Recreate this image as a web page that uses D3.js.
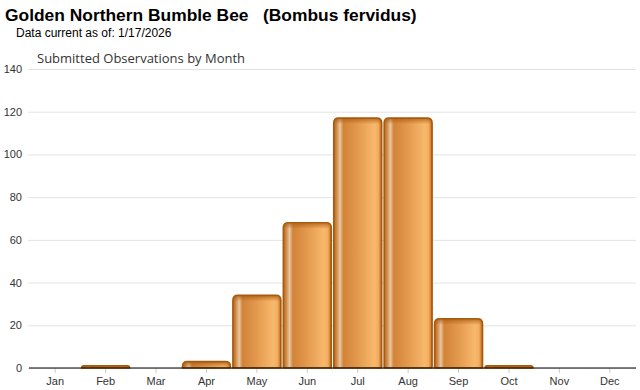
<!DOCTYPE html>
<html>
<head>
<meta charset="utf-8">
<script src="https://cdn.jsdelivr.net/npm/d3@7"></script>
<style>
  body { margin: 0; background: #fff; }
  svg { display: block; }
</style>
</head>
<body>
<div id="chart"></div>
<script>
const months = ['Jan', 'Feb', 'Mar', 'Apr', 'May', 'Jun', 'Jul', 'Aug', 'Sep', 'Oct', 'Nov', 'Dec'];
const observations = [0, 1, 0, 3, 34, 68, 117, 117, 23, 1, 0, 0];
const yTicks = [0, 20, 40, 60, 80, 100, 120, 140];

const width = 640;
const height = 390;
const margin = { top: 69, right: 5, bottom: 22, left: 30 };

const svg = d3.select('#chart')
  .append('svg')
  .attr('width', width)
  .attr('height', height);

const defs = svg.append('defs');

// horizontal "cylinder" shading for the bars
const grad = defs.append('linearGradient')
  .attr('id', 'barGrad')
  .attr('x1', '0%').attr('x2', '100%')
  .attr('y1', '0%').attr('y2', '0%');
[
  ['0%', '#b8671c'],
  ['6%', '#cf8a48'],
  ['13%', '#e9c7a0'],
  ['20%', '#d28338'],
  ['50%', '#e39a4e'],
  ['85%', '#f8b86c'],
  ['93%', '#f2ad60'],
  ['100%', '#b86a1c']
].forEach(([o, c]) => grad.append('stop').attr('offset', o).attr('stop-color', c));

// darker shading along the top edge
const topGrad = defs.append('linearGradient')
  .attr('id', 'topGrad')
  .attr('x1', '0%').attr('x2', '0%')
  .attr('y1', '0%').attr('y2', '100%');
topGrad.append('stop').attr('offset', '0%').attr('stop-color', '#a85a10').attr('stop-opacity', 0.7);
topGrad.append('stop').attr('offset', '100%').attr('stop-color', '#a85a10').attr('stop-opacity', 0);

const x = d3.scaleBand()
  .domain(months)
  .range([margin.left, width - margin.right])
  .paddingInner(0.02)
  .paddingOuter(0.01);

const y = d3.scaleLinear()
  .domain([0, 140])
  .range([height - margin.bottom, margin.top]);

// titles
svg.append('text')
  .attr('x', 5).attr('y', 21)
  .attr('font-family', 'Liberation Sans, Arial, sans-serif')
  .attr('font-size', 17.4)
  .attr('font-weight', 'bold')
  .attr('fill', '#000')
  .attr('xml:space', 'preserve')
  .text('Golden Northern Bumble Bee   (Bombus fervidus)');

svg.append('text')
  .attr('x', 16).attr('y', 37)
  .attr('font-family', 'Liberation Sans, Arial, sans-serif')
  .attr('font-size', 12)
  .attr('fill', '#000')
  .text('Data current as of: 1/17/2026');

svg.append('text')
  .attr('x', 37).attr('y', 63)
  .attr('font-family', 'Open Sans, sans-serif')
  .attr('font-size', 13)
  .attr('fill', '#333')
  .text('Submitted Observations by Month');

// gridlines + y labels
const yAxis = svg.append('g')
  .attr('transform', `translate(${margin.left - 2},0)`)
  .call(d3.axisLeft(y).tickValues(yTicks).tickSize(-(width - margin.left - 2)).tickPadding(6));
yAxis.select('.domain').remove();
yAxis.selectAll('.tick line').attr('stroke', '#e3e3e3');
yAxis.selectAll('.tick text')
  .attr('fill', '#333')
  .attr('font-family', 'Liberation Sans, Arial, sans-serif')
  .attr('font-size', 11);

// x axis
const xAxis = svg.append('g')
  .attr('transform', `translate(0,${height - margin.bottom})`)
  .call(d3.axisBottom(x).tickSize(5).tickPadding(4));
xAxis.select('.domain').remove();
xAxis.selectAll('.tick line').attr('stroke', '#ccc');
xAxis.selectAll('.tick text')
  .attr('fill', '#333')
  .attr('font-family', 'Liberation Sans, Arial, sans-serif')
  .attr('font-size', 11);

// bar path with rounded top corners
const barPath = (x0, w, yTop, yBase) => {
  const r = Math.min(5, (yBase - yTop), w / 2);
  return `M${x0},${yBase}V${yTop + r}Q${x0},${yTop} ${x0 + r},${yTop}` +
    `H${x0 + w - r}Q${x0 + w},${yTop} ${x0 + w},${yTop + r}V${yBase}Z`;
};

const bars = svg.append('g')
  .selectAll('g')
  .data(months.map((m, i) => ({ month: m, value: observations[i] })).filter(d => d.value > 0))
  .join('g');

bars.append('path')
  .attr('d', d => barPath(x(d.month) + 0.75, x.bandwidth() - 1.5, y(d.value), y(0)))
  .attr('fill', 'url(#barGrad)')
  .attr('stroke', '#a9590a')
  .attr('stroke-width', 1.6);

bars.append('path')
  .attr('d', d => barPath(x(d.month) + 1.5, x.bandwidth() - 3, y(d.value) + 0.5, Math.min(y(0), y(d.value) + 6)))
  .attr('fill', 'url(#topGrad)');

// baseline
svg.append('line')
  .attr('x1', margin.left - 1).attr('x2', width - 4)
  .attr('y1', y(0)).attr('y2', y(0))
  .attr('stroke', '#000')
  .attr('stroke-width', 1.2);
</script>
</body>
</html>
